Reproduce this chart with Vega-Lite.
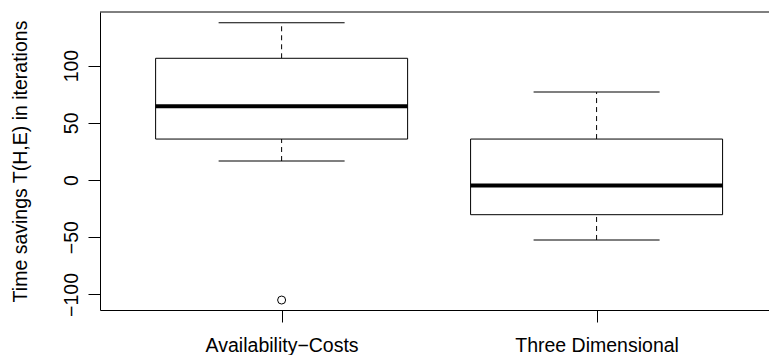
{
  "$schema": "https://vega.github.io/schema/vega-lite/v6.json",
  "autosize": "none",
  "padding": {"left": 100, "top": 12, "right": 0, "bottom": 45},
  "width": 669,
  "height": 298,
  "background": "white",
  "config": {
    "view": {"stroke": null},
    "font": "Liberation Sans",
    "axis": {
      "grid": false,
      "domainColor": "black",
      "domainWidth": 1,
      "tickColor": "black",
      "tickWidth": 1,
      "tickSize": 12,
      "labelColor": "black",
      "labelFont": "Liberation Sans",
      "labelFontSize": 19.5,
      "titleFont": "Liberation Sans",
      "titleFontSize": 19.5,
      "titleFontWeight": "normal",
      "titleColor": "black"
    }
  },
  "datasets": {
    "boxes": [
      {"group": "Availability−Costs", "lower": 16.6, "q1": 35.8, "median": 64.4, "q3": 106.4, "upper": 137.5},
      {"group": "Three Dimensional", "lower": -52.4, "q1": -30.3, "median": -4.7, "q3": 35.8, "upper": 76.9}
    ],
    "outliers": [
      {"group": "Availability−Costs", "value": -104.9}
    ]
  },
  "encoding": {
    "x": {
      "field": "group",
      "type": "nominal",
      "scale": {"type": "point", "domain": ["Availability−Costs", "Three Dimensional"], "padding": 0.562, "align": 0.513},
      "axis": {"title": null, "labelAngle": 0, "labelPadding": 14, "labelBaseline": "top"}
    }
  },
  "layer": [
    {
      "data": {"name": "boxes"},
      "mark": {"type": "rule", "color": "black", "strokeWidth": 1, "strokeDash": [5, 4]},
      "encoding": {
        "y": {
          "field": "q3",
          "type": "quantitative",
          "scale": {"domain": [-113.6, 146.85], "nice": false, "zero": false},
          "axis": {
            "title": "Time savings T(H,E) in iterations",
            "values": [-100, -50, 0, 50, 100],
            "labelAngle": -90,
            "labelPadding": 7,
            "titlePadding": 31
          }
        },
        "y2": {"field": "upper"}
      }
    },
    {
      "data": {"name": "boxes"},
      "mark": {"type": "rule", "color": "black", "strokeWidth": 1, "strokeDash": [5, 4]},
      "encoding": {
        "y": {"field": "lower", "type": "quantitative"},
        "y2": {"field": "q1"}
      }
    },
    {
      "data": {"name": "boxes"},
      "mark": {"type": "bar", "width": 252, "fill": "white", "stroke": "black", "strokeWidth": 1, "opacity": 1},
      "encoding": {
        "y": {"field": "q1", "type": "quantitative"},
        "y2": {"field": "q3"}
      }
    },
    {
      "data": {"name": "boxes"},
      "mark": {"type": "tick", "color": "black", "size": 252, "thickness": 4, "orient": "horizontal", "opacity": 1},
      "encoding": {
        "y": {"field": "median", "type": "quantitative"}
      }
    },
    {
      "data": {"name": "boxes"},
      "mark": {"type": "tick", "color": "black", "size": 126, "thickness": 1, "orient": "horizontal", "opacity": 1},
      "encoding": {
        "y": {"field": "upper", "type": "quantitative"}
      }
    },
    {
      "data": {"name": "boxes"},
      "mark": {"type": "tick", "color": "black", "size": 126, "thickness": 1, "orient": "horizontal", "opacity": 1},
      "encoding": {
        "y": {"field": "lower", "type": "quantitative"}
      }
    },
    {
      "data": {"name": "outliers"},
      "mark": {"type": "point", "shape": "circle", "filled": false, "color": "black", "size": 64, "strokeWidth": 1, "opacity": 1},
      "encoding": {
        "y": {"field": "value", "type": "quantitative"}
      }
    },
    {
      "data": {"values": [{}]},
      "mark": {"type": "rule", "color": "black", "strokeWidth": 1},
      "encoding": {
        "x": null,
        "y": {"datum": 146.85, "type": "quantitative"}
      }
    }
  ]
}
